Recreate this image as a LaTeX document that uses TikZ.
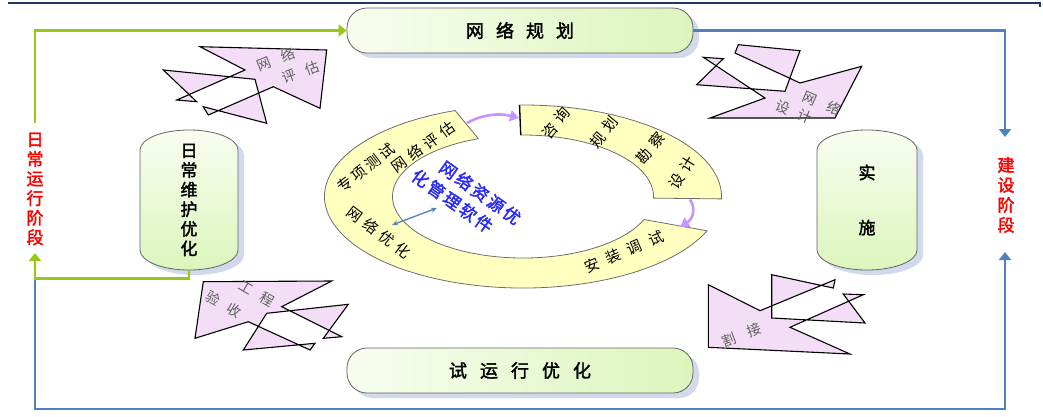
\documentclass[tikz,border=0pt]{standalone}
\usepackage{fontspec}
\setmainfont[AutoFakeBold=2]{Noto Sans CJK SC}
\usetikzlibrary{arrows.meta,shadows}
\makeatletter
\newcommand\spaced[2]{\def\sp@gap{#1}\sp@aux#2\@nil}
\def\sp@aux#1#2\@nil{#1\ifx\relax#2\relax\else\hspace{\sp@gap}\sp@aux#2\@nil\fi}
\makeatother
\definecolor{gline}{RGB}{150,200,20}
\definecolor{bline}{RGB}{79,129,189}
\definecolor{topline}{RGB}{31,56,100}
\definecolor{boxA}{RGB}{248,253,240}
\definecolor{boxB}{RGB}{220,245,188}
\definecolor{boxedge}{RGB}{100,100,100}
\definecolor{shadowc}{RGB}{208,218,236}
\definecolor{ringfill}{RGB}{255,255,192}
\definecolor{ringedge}{RGB}{110,110,110}
\definecolor{purp}{RGB}{195,150,255}
\definecolor{pinkf}{RGB}{244,222,247}
\definecolor{ctextc}{RGB}{40,40,250}
\definecolor{bursttext}{RGB}{95,95,95}
\tikzset{
  gln/.style={draw=gline, line width=2.4pt},
  bln/.style={draw=bline, line width=2.2pt},
  tip/.style={-{Triangle[length=8pt,width=12pt]}},
  boxshadow/.style={drop shadow={shadow xshift=6pt,shadow yshift=-5pt,fill=shadowc,opacity=1}},
  hbox/.style={draw=boxedge, line width=0.8pt, rounded corners=20pt, left color=boxA, right color=boxB,
    minimum width=346pt, minimum height=45pt, boxshadow, font=\fontsize{18}{20}\selectfont\bfseries},
  vbox/.style={draw=boxedge, line width=0.8pt, top color=boxA, bottom color=boxB, boxshadow},
  vtext/.style={align=center, font=\fontsize{17}{19.6}\selectfont\bfseries, inner sep=0pt},
  ring/.style={draw=ringedge, line width=0.8pt, fill=ringfill},
  rtext/.style={font=\fontsize{15}{16}\selectfont, inner sep=0pt},
  burst/.style={draw=black, line width=1.1pt, fill=pinkf, even odd rule, line join=miter},
  btext/.style={font=\fontsize{14}{15}\selectfont, text=bursttext, inner sep=0pt},
  redtext/.style={align=center, text=red, font=\fontsize{17}{19.6}\selectfont\bfseries, inner sep=0pt},
  ctext/.style={font=\fontsize{17}{23}\selectfont\bfseries, text=ctextc, inner sep=0pt, align=left},
  parr/.style={draw=purp, line width=2.6pt, -{Triangle[length=9pt,width=11pt]}}
}
\begin{document}
\begin{tikzpicture}[x=1pt,y=-1pt]
\useasboundingbox (0,0) rectangle (1043,416);
% top rule
\draw[topline, line width=1.6pt] (8,3) -- (1040,3) -- (1040,7);

% coordinates for connectors
\coordinate (dailyTop) at (35,123);
\coordinate (dailyBot) at (35,253);
\coordinate (buildTop) at (1005,137);
\coordinate (buildBot) at (1005,252);
\coordinate (gc) at (35,278.5);
\coordinate (bl) at (35,409);
\coordinate (br) at (1005,409);

% boxes
\node[hbox] (plan) at (520,30.5) {\spaced{12pt}{网络规划}};
\node[hbox] (trial) at (520,370.5) {\spaced{13pt}{试运行优化}};

\path[vbox] (140,150) arc[start angle=180,end angle=360,x radius=49,y radius=20]
  -- (238,250) arc[start angle=0,end angle=180,x radius=49,y radius=20] -- cycle;
\node[vtext, minimum width=98pt, minimum height=140pt] (maint) at (189,200) {日\\常\\维\\护\\优\\化};

\path[vbox] (817,150) arc[start angle=180,end angle=360,x radius=50,y radius=20]
  -- (917,250) arc[start angle=0,end angle=180,x radius=50,y radius=20] -- cycle;
\node[vtext, font=\fontsize{17}{55}\selectfont\bfseries, minimum width=100pt, minimum height=140pt] (impl) at (867,200) {实\\施};

% phase labels
\node[redtext] (daily) at (35,189) {日\\常\\运\\行\\阶\\段};
\node[redtext, font=\fontsize{17}{20}\selectfont\bfseries] (build) at (1006,195) {建\\设\\阶\\段};

% connectors
\draw[bln, tip] (gc) -- (bl) -- (br) -- (buildBot);
\draw[bln, tip] (plan.east) -| (buildTop);
\draw[gln, tip] (maint.south) |- (gc) -- (dailyBot);
\draw[gln, tip] (dailyTop) |- (plan.west);

% ring
\coordinate (C) at (523,196.5);
\path[ring] ([shift={(-110:198.5 and 91.5)}]C) arc[start angle=-110,end angle=-338,x radius=198.5,y radius=91.5]
  -- ([shift={(-338:130.5 and 61.5)}]C) arc[start angle=-338,end angle=-110,x radius=130.5,y radius=61.5] -- cycle;
\path[ring] ([shift={(-91:198.5 and 91.5)}]C) arc[start angle=-91,end angle=1.5,x radius=198.5,y radius=91.5]
  -- ([shift={(1.5:130.5 and 61.5)}]C) arc[start angle=1.5,end angle=-91,x radius=130.5,y radius=61.5] -- cycle;
\coordinate (bTopO) at ([shift={(-91:198.5 and 91.5)}]C);
\coordinate (bTopI) at ([shift={(-91:130.5 and 61.5)}]C);
\draw[line width=1.3pt] (bTopO) -- (bTopI);

\node[rtext, rotate=38] (t1) at (366,168) {\spaced{3pt}{专项测试}};
\node[rtext, rotate=36] (t2) at (423,147) {\spaced{5pt}{网络评估}};
\node[rtext, rotate=-37] (t3) at (379,232) {\spaced{5pt}{网络优化}};
\node[rtext, rotate=23] (t4) at (624,252) {\spaced{8pt}{安装调试}};
\node[rtext, rotate=50] (t5) at (556,123) {\spaced{5pt}{咨询}};
\node[rtext, rotate=50] (t6) at (604,132) {\spaced{5pt}{规划}};
\node[rtext, rotate=50] (t7) at (650,148) {\spaced{5pt}{勘察}};
\node[rtext, rotate=58] (t8) at (682,173) {\spaced{5pt}{设计}};

% purple arrows
\coordinate (aTop) at (467,123);
\coordinate (bTop) at (519,118);
\draw[parr] (aTop) .. controls (483,114) and (500,113) .. (bTop);
\coordinate (bBot) at (690,199.5);
\coordinate (aEnd) at (680,227);
\draw[parr] (bBot) .. controls (696,208) and (693,219) .. (aEnd);

% central text
\node[ctext, rotate=-35.5] (soft) at (466.3,196.7) {\hspace{18pt}\spaced{2.5pt}{网络资源优}\\\spaced{2.5pt}{化管理软件}};
\coordinate (dl) at (392,225);
\coordinate (dr) at (437,208);
\draw[draw=bline, line width=1.3pt, {Stealth[length=6pt,width=5pt]}-{Stealth[length=6pt,width=5pt]}] (dl) -- (dr);

% burst shapes
\path[burst] (200,46.7) -- (326.7,50) -- (320,108.3) -- (273.3,86.7) -- (208.3,115) -- (203.3,106.7)
  -- (266.7,123.3) -- (255,79.3) -- (163.3,70) -- (196.7,101.7) -- (176.7,100) -- (245,70) -- cycle;
\node[btext, rotate=22] (s1a) at (276,59.3) {\spaced{12pt}{网络}};
\node[btext, rotate=20] (s1b) at (300.7,72.3) {\spaced{11pt}{评估}};

\path[burst] (703.3,57.3) -- (723.3,58.7) -- (696.7,84.7) -- (785,91.3) -- (800,50.7) -- (738.3,44.7)
  -- (735,53) -- (800,83) -- (861.7,66.3) -- (835,118) -- (710,118) -- (765,98) -- cycle;
\node[btext, rotate=-23] (s2a) at (822,103) {\spaced{12pt}{网络}};
\node[btext, rotate=-23] (s2b) at (794,112) {\spaced{10pt}{设计}};

\path[burst] (203.3,281.7) -- (331.7,281) -- (281.7,306.7) -- (341.7,336.7) -- (323.3,338.3) -- (348.3,304.3)
  -- (266.7,313.3) -- (243.3,350) -- (315,343.3) -- (310,350) -- (248.3,321.7) -- (195,338.3) -- cycle;
\node[btext, rotate=-30] (s3a) at (257,293) {\spaced{10pt}{工程}};
\node[btext, rotate=-30] (s3b) at (224,304) {\spaced{10pt}{验收}};

\path[burst] (708.3,284.7) -- (760,310.7) -- (835,279.7) -- (833.3,288) -- (771.7,274.7) -- (771.7,318)
  -- (865,323) -- (843.3,294) -- (863.3,294.7) -- (790,327.3) -- (850,354) -- (708.3,347.3) -- cycle;
\node[btext, rotate=21] (s4a) at (742,335) {\spaced{13pt}{割接}};
\end{tikzpicture}
\end{document}
